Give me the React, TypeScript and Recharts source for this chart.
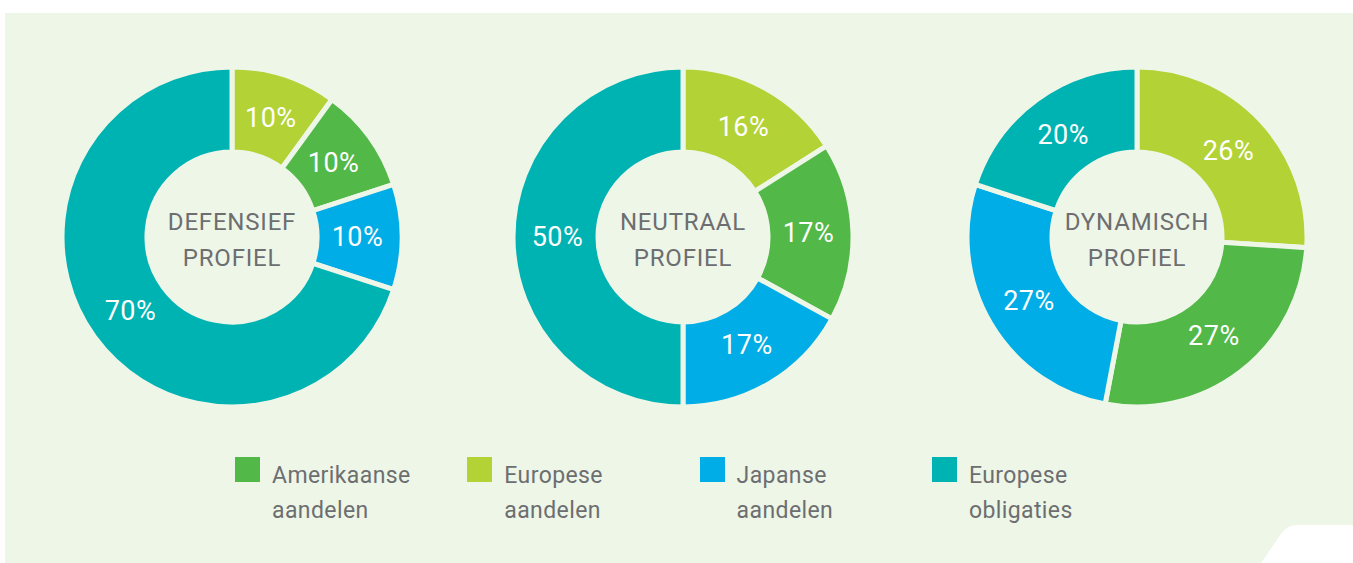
import { PieChart, Pie, Cell, Legend } from "recharts";

const categories = ["Europese aandelen", "Amerikaanse aandelen", "Japanse aandelen", "Europese obligaties"];
const colors = ["#b3d235", "#52b848", "#00ade6", "#00b3b3"];

const defensief = [10, 10, 10, 70];
const neutraal = [16, 17, 17, 50];
const dynamisch = [26, 27, 27, 20];

const profiles = [
  { title: ["DEFENSIEF", "PROFIEL"], values: defensief, cx: 232 },
  { title: ["NEUTRAAL", "PROFIEL"], values: neutraal, cx: 683 },
  { title: ["DYNAMISCH", "PROFIEL"], values: dynamisch, cx: 1137 },
];

// legend order differs from slice order
const legendOrder = [
  { label: ["Amerikaanse", "aandelen"], color: colors[1] },
  { label: ["Europese", "aandelen"], color: colors[0] },
  { label: ["Japanse", "aandelen"], color: colors[2] },
  { label: ["Europese", "obligaties"], color: colors[3] },
];

const BG = "#eef6e8";
const FONT = "Roboto, 'DejaVu Sans', sans-serif";
const CY = 237;
const RAD = Math.PI / 180;

function sliceLabel(props: any) {
  const { cx, cy, midAngle, innerRadius, outerRadius, value } = props;
  const r = (innerRadius + outerRadius) / 2 - 2;
  const x = cx + r * Math.cos(-midAngle * RAD);
  const y = cy + r * Math.sin(-midAngle * RAD);
  return (
    <text x={x} y={y} fill="#ffffff" fontSize={27} letterSpacing={0.5} fontFamily={FONT} textAnchor="middle" dominantBaseline="central">
      {`${value}%`}
    </text>
  );
}

function LegendBox() {
  return (
    <div style={{ position: "relative", height: 80, fontFamily: FONT }}>
      {legendOrder.map((item, i) => (
        <div key={i} style={{ position: "absolute", left: 235 + i * 232.3, top: 0 }}>
          <div style={{ position: "absolute", left: 0, top: 0, width: 25, height: 25, background: item.color }} />
          <div style={{ position: "absolute", left: 37, top: 1, fontSize: 23, letterSpacing: 0.4, lineHeight: "35px", color: "#6d6e70", whiteSpace: "nowrap" }}>
            {item.label[0]}
            <br />
            {item.label[1]}
          </div>
        </div>
      ))}
    </div>
  );
}

export default function App() {
  return (
    <div style={{ position: "absolute", left: 0, top: 0, width: 1353, height: 563, background: "#ffffff" }}>
      <div
        style={{
          position: "absolute", left: 5, top: 13, width: 1348, height: 550, background: BG,
          clipPath: "path('M0 0 H1348 V512 H1293 Q1282 512 1276 521 L1256 550 H0 Z')",
        }}
      />
      <div style={{ position: "absolute", left: 0, top: 0 }}>
        <PieChart width={1353} height={563} margin={{ top: 0, right: 0, bottom: 0, left: 0 }}>
          {profiles.map((p, pi) => (
            <Pie
              key={pi}
              data={p.values.map((v, i) => ({ name: categories[i], value: v }))}
              dataKey="value"
              nameKey="name"
              cx={p.cx}
              cy={CY}
              innerRadius={85}
              outerRadius={170}
              startAngle={90}
              endAngle={-270}
              stroke={BG}
              strokeWidth={5}
              label={sliceLabel}
              labelLine={false}
              isAnimationActive={false}
            >
              {p.values.map((_, i) => (
                <Cell key={i} fill={colors[i]} stroke={BG} strokeWidth={5} />
              ))}
            </Pie>
          ))}
          {profiles.map((p, pi) => (
            <text key={`t${pi}`} textAnchor="middle" fill="#6d6e70" fontSize={24} letterSpacing={0.8} fontFamily={FONT}>
              <tspan x={p.cx} y={CY - 7}>{p.title[0]}</tspan>
              <tspan x={p.cx} y={CY + 29}>{p.title[1]}</tspan>
            </text>
          ))}
          <Legend
            content={() => <LegendBox />}
            wrapperStyle={{ position: "absolute", left: 0, top: 457, width: 1353 }}
          />
        </PieChart>
      </div>
    </div>
  );
}
